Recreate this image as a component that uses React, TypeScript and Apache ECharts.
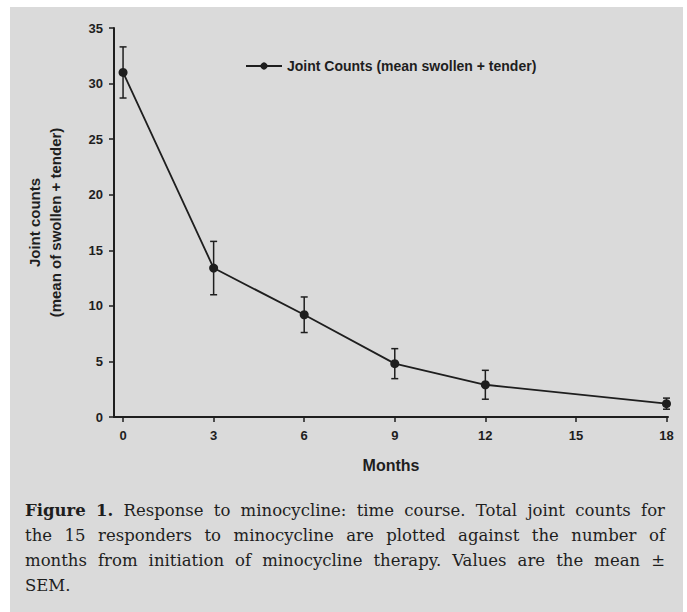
import React, { useEffect, useRef } from 'react';
import * as echarts from 'echarts';

// Data
const months = [0, 3, 6, 9, 12, 18];
const meanCounts = [31.0, 13.4, 9.2, 4.8, 2.9, 1.2];
const semCounts = [2.3, 2.4, 1.6, 1.35, 1.3, 0.5];
const xTicks = [0, 3, 6, 9, 12, 15, 18];
const seriesName = 'Joint Counts (mean swollen + tender)';
const yTitle = 'Joint counts\n(mean of swollen + tender)';
const xTitle = 'Months';
const captionLines = [
  'Figure 1. Response to minocycline: time course. Total joint counts for',
  'the 15 responders to minocycline are plotted against the number of',
  'months from initiation of minocycline therapy. Values are the mean ±',
  'SEM.',
];

const INK = '#1e1e1e';
const SANS = 'Liberation Sans';
const SERIF = 'DejaVu Serif';

function buildCaption(): any[] {
  const canvas = document.createElement('canvas');
  const ctx = canvas.getContext('2d') as CanvasRenderingContext2D;
  const size = 16.5;
  const x0 = 25;
  const width = 640;
  const lineY = [510, 535, 560, 585];
  const els: any[] = [];
  captionLines.forEach((line, li) => {
    const words = line.split(' ');
    const weights = words.map((w, wi) => (li === 0 && wi < 2 ? 'bold' : 'normal'));
    const widths = words.map((w, wi) => {
      ctx.font = `${weights[wi]} ${size}px "${SERIF}"`;
      return ctx.measureText(w).width;
    });
    ctx.font = `normal ${size}px "${SERIF}"`;
    const space = ctx.measureText(' ').width;
    const total = widths.reduce((a, b) => a + b, 0);
    const justify = li < captionLines.length - 1 && words.length > 1;
    const gap = justify ? (width - total) / (words.length - 1) : space;
    let x = x0;
    words.forEach((w, wi) => {
      els.push({
        type: 'text',
        x,
        y: lineY[li],
        style: {
          text: w,
          fontFamily: SERIF,
          fontSize: size,
          fontWeight: weights[wi],
          fill: INK,
          verticalAlign: 'middle',
        },
      });
      x += widths[wi] + gap;
    });
  });
  return els;
}

export default function App() {
  const ref = useRef<HTMLDivElement>(null);
  useEffect(() => {
    document.body.style.margin = '0';
    if (!ref.current) return;
    const chart = echarts.init(ref.current, null, { renderer: 'svg' });
    const errData = months.map((m, i) => [m, meanCounts[i] - semCounts[i], meanCounts[i] + semCounts[i]]);
    const option: any = {
      animation: false,
      backgroundColor: '#ffffff',
      graphic: [
        {
          type: 'rect',
          z: -10,
          shape: { x: 10, y: 7, width: 673, height: 605 },
          style: { fill: '#dadada' },
        },
        ...buildCaption(),
      ],
      legend: {
        left: 240,
        top: 54,
        itemWidth: 36,
        itemHeight: 9,
        itemGap: 8,
        textStyle: { fontFamily: SANS, fontSize: 14, fontWeight: 'bold', color: INK },
        data: [seriesName],
      },
      grid: { left: 114, right: 19, top: 28, bottom: 195, containLabel: false },
      xAxis: {
        type: 'value',
        min: -0.3,
        max: 18.05,
        name: xTitle,
        nameLocation: 'middle',
        nameGap: 40,
        nameTextStyle: { fontFamily: SANS, fontSize: 16, fontWeight: 'bold', color: INK },
        splitLine: { show: false },
        axisLine: { show: true, lineStyle: { color: INK, width: 2 } },
        axisTick: { show: true, length: 5, customValues: xTicks, lineStyle: { color: INK, width: 1.5 } },
        axisLabel: {
          customValues: xTicks,
          margin: 12,
          fontFamily: SANS,
          fontSize: 13,
          fontWeight: 'bold',
          color: INK,
        },
      },
      yAxis: {
        type: 'value',
        min: 0,
        max: 35,
        interval: 5,
        name: yTitle,
        nameLocation: 'middle',
        nameRotate: 90,
        nameGap: 48,
        nameTextStyle: { fontFamily: SANS, fontSize: 15, fontWeight: 'bold', color: INK, lineHeight: 21 },
        splitLine: { show: false },
        axisLine: { show: true, onZero: false, lineStyle: { color: INK, width: 2 } },
        axisTick: { show: true, length: 5, lineStyle: { color: INK, width: 1.5 } },
        axisLabel: { margin: 11, fontFamily: SANS, fontSize: 13, fontWeight: 'bold', color: INK },
      },
      series: [
        {
          name: seriesName,
          type: 'line',
          data: months.map((m, i) => [m, meanCounts[i]]),
          symbol: 'circle',
          symbolSize: 9,
          itemStyle: { color: INK },
          lineStyle: { color: INK, width: 1.8 },
          z: 3,
        },
        {
          name: 'SEM',
          type: 'custom',
          data: errData,
          z: 4,
          renderItem: (params: any, api: any) => {
            const x = api.value(0);
            const lo = api.coord([x, api.value(1)]);
            const hi = api.coord([x, api.value(2)]);
            const cap = 3.5;
            const style = { stroke: INK, lineWidth: 1.5 };
            return {
              type: 'group',
              children: [
                { type: 'line', shape: { x1: hi[0], y1: hi[1], x2: lo[0], y2: lo[1] }, style },
                { type: 'line', shape: { x1: hi[0] - cap, y1: hi[1], x2: hi[0] + cap, y2: hi[1] }, style },
                { type: 'line', shape: { x1: lo[0] - cap, y1: lo[1], x2: lo[0] + cap, y2: lo[1] }, style },
              ],
            };
          },
        },
      ],
    };
    chart.setOption(option);
    return () => chart.dispose();
  }, []);
  return <div ref={ref} style={{ width: 687, height: 612 }} />;
}
